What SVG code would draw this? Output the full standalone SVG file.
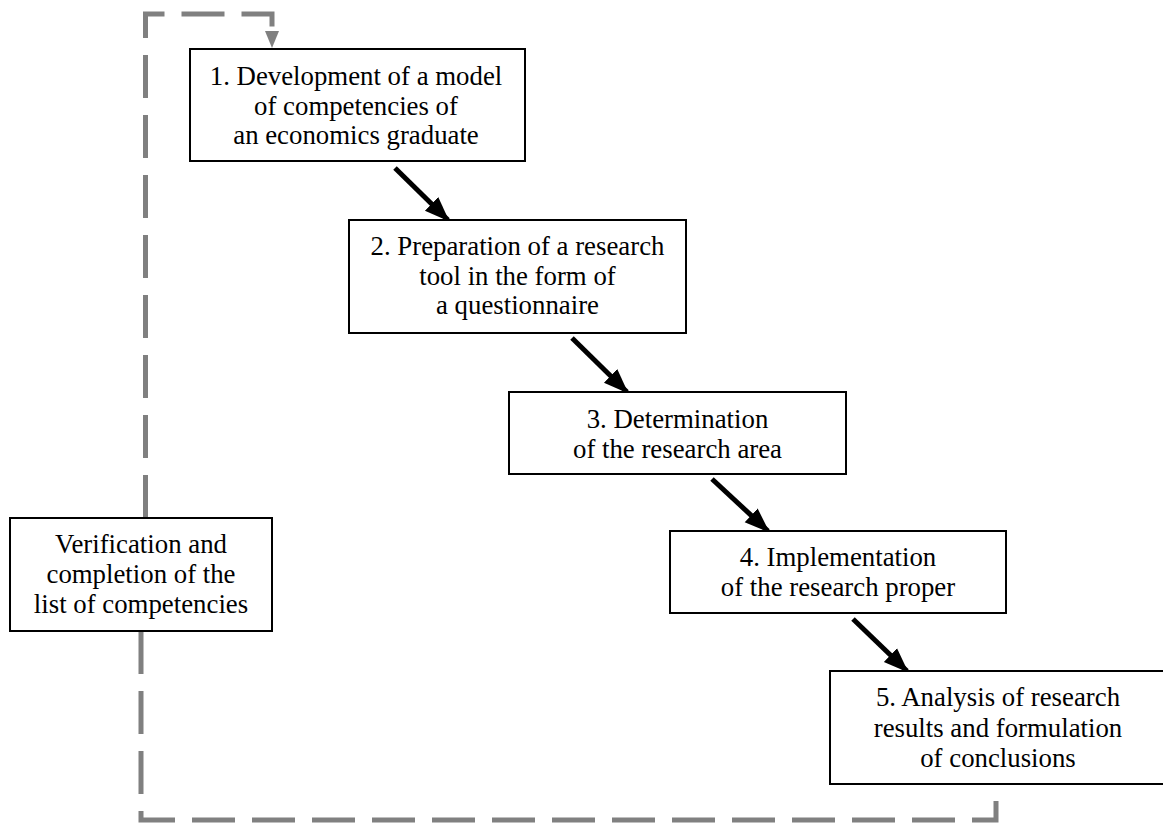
<svg xmlns="http://www.w3.org/2000/svg" width="1163" height="823" viewBox="0 0 1163 823">
<style>
.box{fill:#fff;stroke:#000;stroke-width:2}
.t{font-family:"Liberation Serif","Times New Roman",serif;font-size:26.8px;fill:#000;text-anchor:middle}
.arr{stroke:#000;stroke-width:5;fill:none;marker-end:url(#ah)}
.dash{stroke:#808080;stroke-width:5;fill:none;stroke-dasharray:43 17}
</style>
<defs>
<marker id="ah" markerWidth="5" markerHeight="5" refX="4.6" refY="2.5" orient="auto" markerUnits="strokeWidth" viewBox="0 0 5 5">
<path d="M0,0.6 L5,2.5 L0,4.4 Z" fill="#000"/>
</marker>
</defs>
<rect width="1163" height="823" fill="#fff"/>
<g id="connectors">
<path class="dash" d="M145.5,518 V14 H272 V30"/>
<path d="M265,31 L279,31 L272,48 Z" fill="#808080"/>
<path class="dash" d="M141,631 V820 H996 V784"/>
<line class="arr" x1="395" y1="168" x2="448" y2="220"/>
<line class="arr" x1="572" y1="338" x2="627" y2="392"/>
<line class="arr" x1="712" y1="479" x2="768" y2="531"/>
<line class="arr" x1="853" y1="619" x2="907" y2="671"/>
</g>
<g id="n1">
<rect class="box" x="190" y="49" width="335" height="112"/>
<text class="t" x="356" y="85">1. Development of a model</text>
<text class="t" x="356" y="114.5">of competencies of</text>
<text class="t" x="356" y="144">an economics graduate</text>
</g>
<g id="n2">
<rect class="box" x="349" y="220" width="337" height="113"/>
<text class="t" x="517.5" y="255">2. Preparation of a research</text>
<text class="t" x="517.5" y="284.5">tool in the form of</text>
<text class="t" x="517.5" y="314">a questionnaire</text>
</g>
<g id="n3">
<rect class="box" x="509" y="392" width="337" height="82"/>
<text class="t" x="677.5" y="427.5">3. Determination</text>
<text class="t" x="677.5" y="457.5">of the research area</text>
</g>
<g id="n4">
<rect class="box" x="670" y="531" width="336" height="82"/>
<text class="t" x="838" y="566">4. Implementation</text>
<text class="t" x="838" y="596">of the research proper</text>
</g>
<g id="n5">
<rect class="box" x="830" y="671" width="337" height="113"/>
<text class="t" x="998" y="706">5. Analysis of research</text>
<text class="t" x="998" y="736.5">results and formulation</text>
<text class="t" x="998" y="767">of conclusions</text>
</g>
<g id="verify">
<rect class="box" x="10" y="518" width="262" height="113"/>
<text class="t" x="141" y="553">Verification and</text>
<text class="t" x="141" y="583">completion of the</text>
<text class="t" x="141" y="613">list of competencies</text>
</g>
</svg>
